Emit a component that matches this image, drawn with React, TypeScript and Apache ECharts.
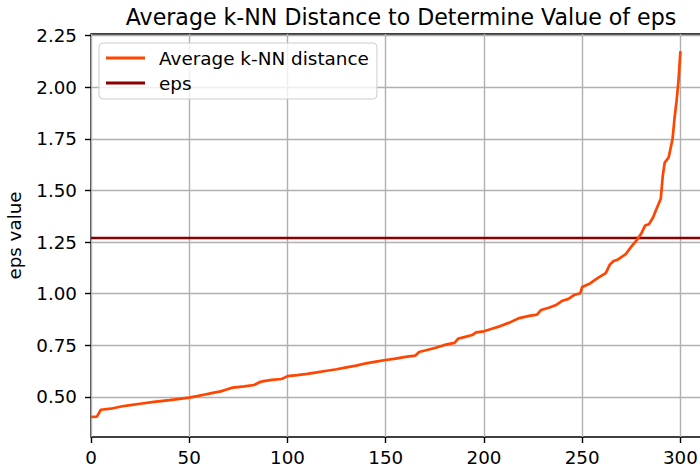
import React, { useEffect, useRef } from "react";
import * as echarts from "echarts";

const titleText = "Average k-NN Distance to Determine Value of eps";
const yAxisName = "eps value";
const seriesNames = ["Average k-NN distance", "eps"];

const xTicks = [0, 50, 100, 150, 200, 250, 300];
const yTicks = [0.5, 0.75, 1.0, 1.25, 1.5, 1.75, 2.0, 2.25];

const pointIndex = [
  0, 3, 5, 10, 16, 20, 25, 32, 40, 45, 50, 54, 58, 62, 66, 69, 72, 78, 83, 86,
  88, 92, 97, 99, 100, 105, 110, 115, 120, 125, 130, 135, 140, 145, 150, 155,
  160, 165, 167, 170, 175, 180, 185, 187, 190, 194, 196, 200, 204, 208, 213,
  218, 223, 227, 229, 233, 237, 240, 243, 246, 249, 250, 254, 258, 262, 264,
  266, 268, 272, 275, 278, 280, 282, 284, 286, 288, 290, 291, 292, 294, 296,
  297, 298, 299, 300,
];
const avgDistance = [
  0.403, 0.405, 0.438, 0.443, 0.455, 0.46, 0.467, 0.476, 0.485, 0.491, 0.497,
  0.504, 0.512, 0.52, 0.527, 0.536, 0.545, 0.551, 0.558, 0.572, 0.577, 0.583,
  0.587, 0.596, 0.601, 0.606, 0.612, 0.619, 0.627, 0.634, 0.643, 0.652, 0.663,
  0.671, 0.679, 0.686, 0.694, 0.7, 0.718, 0.725, 0.737, 0.752, 0.762, 0.783,
  0.79, 0.8, 0.813, 0.818, 0.83, 0.842, 0.86, 0.882, 0.893, 0.899, 0.921,
  0.932, 0.947, 0.966, 0.975, 0.994, 1.002, 1.033, 1.05, 1.077, 1.1, 1.14,
  1.158, 1.165, 1.19, 1.228, 1.262, 1.29, 1.33, 1.337, 1.368, 1.415, 1.46,
  1.57, 1.635, 1.66, 1.75, 1.85, 1.93, 2.03, 2.175,
];
const epsValue = 1.27;

const xRange = [0, 312];
const yRange = [0.306, 2.258];

const FONT = "DejaVu Sans";

export default function App() {
  const ref = useRef<HTMLDivElement>(null);
  useEffect(() => {
    if (!ref.current) return;
    const chart = echarts.init(ref.current, null, { renderer: "svg" });
    const curve = pointIndex.map((x, i) => [x, avgDistance[i]]);
    const epsLine = [
      [xRange[0], epsValue],
      [xRange[1], epsValue],
    ];
    chart.setOption({
      animation: false,
      backgroundColor: "#ffffff",
      textStyle: { fontFamily: FONT },
      title: {
        text: titleText,
        left: 396,
        top: 1,
        textAlign: "center",
        textStyle: {
          fontFamily: FONT,
          fontSize: 22.1,
          fontWeight: "normal",
          color: "#000",
        },
      },
      grid: {
        left: 91,
        top: 34,
        right: -4,
        bottom: 31,
        show: true,
        borderColor: "#000",
        borderWidth: 1.4,
        backgroundColor: "transparent",
        containLabel: false,
        outerBoundsMode: "none",
      },
      legend: {
        orient: "vertical",
        left: 99,
        top: 43,
        padding: [6, 8, 7, 7],
        itemGap: 7,
        itemWidth: 39,
        itemHeight: 3,
        icon: "rect",
        backgroundColor: "rgba(255,255,255,0.8)",
        borderColor: "#cccccc",
        borderWidth: 1,
        borderRadius: 4,
        textStyle: {
          fontFamily: FONT,
          fontSize: 18.4,
          color: "#000",
          padding: [0, 0, 0, 9],
        },
        data: seriesNames,
      },
      xAxis: {
        type: "value",
        min: xRange[0],
        max: xRange[1],
        interval: 50,
        axisLine: { show: false },
        axisTick: {
          show: true,
          length: 6,
          lineStyle: { color: "#000", width: 1.4 },
          customValues: xTicks,
        },
        axisLabel: {
          customValues: xTicks,
          fontFamily: FONT,
          fontSize: 18.3,
          color: "#000",
          margin: 11,
        },
        splitLine: { show: true, lineStyle: { color: "#b0b0b0", width: 1.4 } },
      },
      yAxis: {
        type: "value",
        min: yRange[0],
        max: yRange[1],
        name: yAxisName,
        nameLocation: "middle",
        nameGap: 68,
        nameTextStyle: { fontFamily: FONT, fontSize: 18.3, color: "#000" },
        axisLine: { show: false },
        axisTick: {
          show: true,
          length: 6,
          lineStyle: { color: "#000", width: 1.4 },
          customValues: yTicks,
        },
        axisLabel: {
          customValues: yTicks,
          fontFamily: FONT,
          fontSize: 18.3,
          color: "#000",
          margin: 14,
          formatter: (v: number) => v.toFixed(2),
        },
        splitLine: { show: true, lineStyle: { color: "#b0b0b0", width: 1.4 } },
      },
      series: [
        {
          name: seriesNames[0],
          type: "line",
          data: curve,
          symbol: "none",
          color: "#FF4500",
          lineStyle: { color: "#FF4500", width: 2.7 },
          z: 3,
        },
        {
          name: seriesNames[1],
          type: "line",
          data: epsLine,
          symbol: "none",
          color: "#8B0000",
          lineStyle: { color: "#8B0000", width: 2.7 },
          z: 2,
        },
      ],
    });
    return () => chart.dispose();
  }, []);
  return (
    <div
      ref={ref}
      style={{ position: "fixed", left: 0, top: 0, width: 700, height: 468 }}
    />
  );
}
